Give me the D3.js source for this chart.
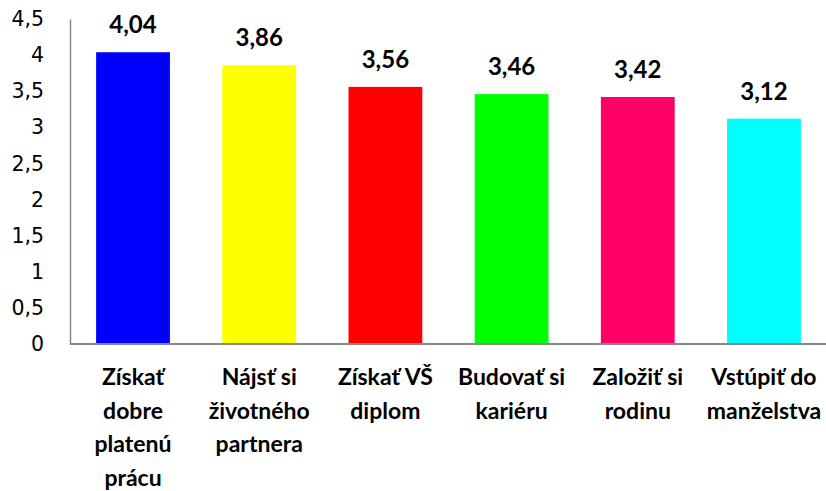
<!DOCTYPE html>
<html>
<head>
<meta charset="utf-8">
<script src="https://cdn.jsdelivr.net/npm/d3@7"></script>
<style>
  body { margin: 0; background: #fff; }
</style>
</head>
<body>
<div id="chart"></div>
<script>
const categories = ["Získať dobre platenú prácu", "Nájsť si životného partnera", "Získať VŠ diplom",
                    "Budovať si kariéru", "Založiť si rodinu", "Vstúpiť do manželstva"];
const categoryLines = [["Získať", "dobre", "platenú", "prácu"],
                       ["Nájsť si", "životného", "partnera"],
                       ["Získať VŠ", "diplom"],
                       ["Budovať si", "kariéru"],
                       ["Založiť si", "rodinu"],
                       ["Vstúpiť do", "manželstva"]];
const values = [4.04, 3.86, 3.56, 3.46, 3.42, 3.12];
const colors = ["#0000ff", "#ffff00", "#ff0000", "#00ff00", "#ff0066", "#00ffff"];
const yTicks = [0, 0.5, 1, 1.5, 2, 2.5, 3, 3.5, 4, 4.5];

const margin = {top: 19, right: -1, bottom: 147, left: 70},
      width = 826 - margin.left - margin.right,
      height = 491 - margin.top - margin.bottom;

const svg = d3.select("#chart")
              .append("svg")
              .attr("width", 826)
              .attr("height", 491)
              .append("g")
              .attr("transform", `translate(${margin.left},${margin.top})`);

const x = d3.scaleBand()
            .domain(categories)
            .range([0, width])
            .paddingInner(0.415)
            .paddingOuter(0.207);

const y = d3.scaleLinear()
            .domain([0, 4.5])
            .range([height, 0]);

const comma = v => String(v).replace(".", ",");

// bars
svg.selectAll(".bar")
   .data(values)
   .enter()
   .append("rect")
   .attr("class", "bar")
   .attr("x", (d, i) => x(categories[i]))
   .attr("y", d => y(d))
   .attr("width", x.bandwidth())
   .attr("height", d => height - y(d))
   .attr("fill", (d, i) => colors[i]);

// y axis
const yAxis = svg.append("g")
   .call(d3.axisLeft(y).tickValues(yTicks).tickSize(0).tickPadding(26).tickFormat(comma));
yAxis.select(".domain").attr("stroke", "#888").attr("stroke-width", 1.5);
yAxis.selectAll("text")
     .style("font-family", "'DejaVu Sans', Verdana, sans-serif")
     .style("font-size", "20.5px")
     .attr("fill", "#000");

// x axis line
svg.append("line")
   .attr("x1", 0).attr("x2", width)
   .attr("y1", height).attr("y2", height)
   .attr("stroke", "#888")
   .attr("stroke-width", 2);

// value labels
svg.selectAll(".label")
   .data(values)
   .enter()
   .append("text")
   .attr("class", "label")
   .attr("x", (d, i) => x(categories[i]) + x.bandwidth() / 2)
   .attr("y", d => y(d) - 19)
   .attr("text-anchor", "middle")
   .style("font-family", "Lato, 'Open Sans', sans-serif")
   .style("font-weight", "bold")
   .style("font-size", "24px")
   .text(d => comma(d));

// category labels
const cat = svg.selectAll(".cat")
   .data(categories)
   .enter()
   .append("text")
   .attr("class", "cat")
   .attr("text-anchor", "middle")
   .style("font-family", "Lato, 'Open Sans', sans-serif")
   .style("font-weight", "bold")
   .style("font-size", "23px");

cat.selectAll("tspan")
   .data((d, i) => categoryLines[i].map(t => ({t, c: d})))
   .enter()
   .append("tspan")
   .attr("x", d => x(d.c) + x.bandwidth() / 2)
   .attr("y", (d, j) => height + 41 + j * 33.5)
   .text(d => d.t);
</script>
</body>
</html>
